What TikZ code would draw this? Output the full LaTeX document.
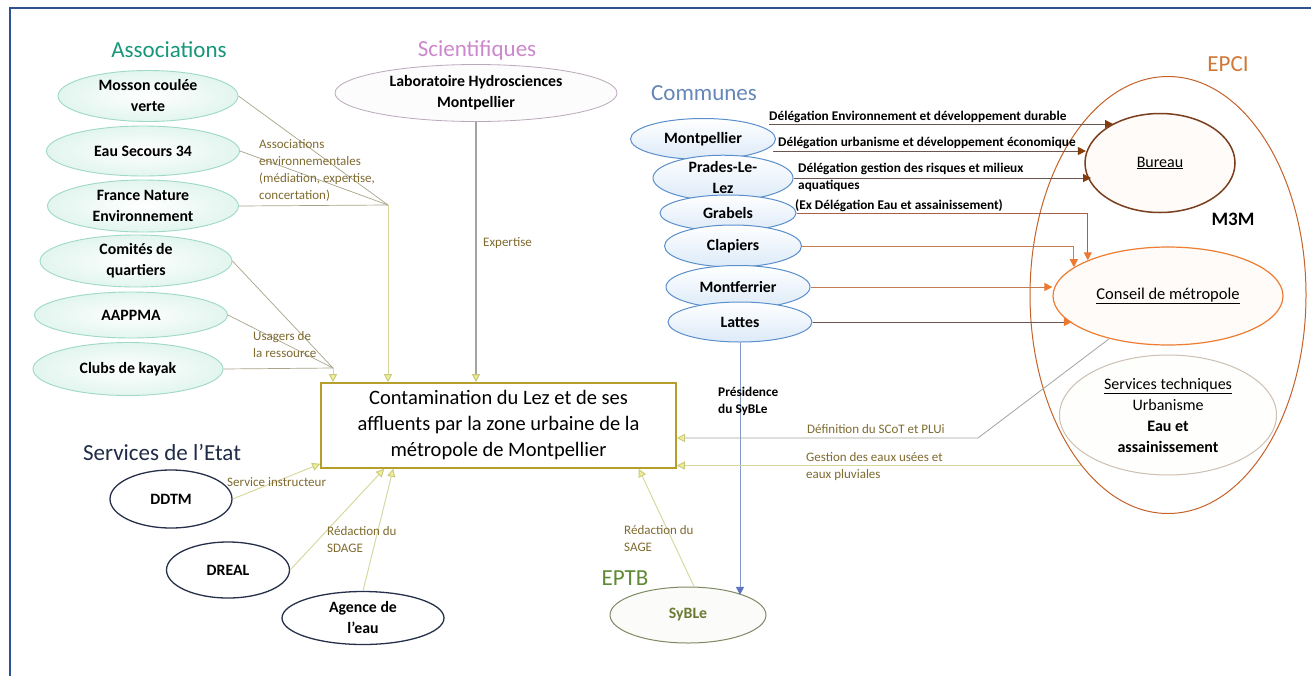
\documentclass[tikz,border=0pt]{standalone}
\usepackage{fontspec}
\setmainfont{Carlito}
\usetikzlibrary{shapes.geometric,arrows.meta,calc}
\definecolor{frameB}{HTML}{2F5291}
\definecolor{assocT}{HTML}{17967A}
\definecolor{assocB}{HTML}{9ED9C6}
\definecolor{assocF}{HTML}{E2F5EE}
\definecolor{sciT}{HTML}{CC88CC}
\definecolor{laboB}{HTML}{B9A9B9}
\definecolor{comT}{HTML}{6586B8}
\definecolor{comB}{HTML}{5B8FCC}
\definecolor{comF}{HTML}{DCEAF8}
\definecolor{etatT}{HTML}{1F2B47}
\definecolor{etatB}{HTML}{27304A}
\definecolor{eptbT}{HTML}{5E8A35}
\definecolor{sybB}{HTML}{7D8A63}
\definecolor{sybT}{HTML}{6C7A33}
\definecolor{epciT}{HTML}{D0783A}
\definecolor{epciB}{HTML}{C5622A}
\definecolor{burB}{HTML}{7A3E1E}
\definecolor{consB}{HTML}{ED7D31}
\definecolor{servB}{HTML}{CDBFB2}
\definecolor{boxB}{HTML}{B59E2A}
\definecolor{labC}{HTML}{7F6B30}
\definecolor{lineA}{HTML}{A9A489}
\definecolor{lineY}{HTML}{D6D69A}
\definecolor{tipY}{HTML}{EEEE9A}
\definecolor{tipYd}{HTML}{C9C979}
\definecolor{lineG}{HTML}{A3A3A0}
\definecolor{lineBl}{HTML}{8599C6}
\definecolor{tipBl}{HTML}{5C74C0}
\definecolor{lineBr}{HTML}{6B5550}
\definecolor{lineRb}{HTML}{A8604A}
\definecolor{lineOr}{HTML}{C47C55}
\definecolor{tipBr}{HTML}{843C0C}
\definecolor{tipOr}{HTML}{EB7A30}
\newcommand\fsnode{\fontsize{15.8}{21}\selectfont}
\newcommand\fslab{\fontsize{13}{17}\selectfont}
\newcommand\fshead{\fontsize{23}{26}\selectfont}
\begin{document}
\begin{tikzpicture}[x=1pt,y=-1pt,
  ell/.style={ellipse, inner sep=0pt, align=center, font=\fsnode\bfseries},
  assoc/.style={ell, draw=assocB, line width=0.9pt, inner color=white, outer color=assocF},
  labo/.style={ell, draw=laboB, line width=0.8pt, fill=white!96!laboB},
  commune/.style={ell, draw=comB, line width=1pt, top color=white, bottom color=comF},
  etat/.style={ell, draw=etatB, line width=1.3pt, fill=white},
  sybl/.style={ell, draw=sybB, line width=1pt, fill=white!97!sybB, text=sybT},
  head/.style={font=\fshead, inner sep=0pt},
  lab/.style={font=\fslab, text=labC, anchor=west, align=left, inner sep=0pt},
  clab/.style={font=\fontsize{13.3}{17}\selectfont\bfseries, text=black, anchor=west, align=left, inner sep=0pt},
  yarrow/.style={-{Triangle[length=8pt,width=8pt,color=tipYd,fill=tipY]}},
  assocline/.style={draw=lineA, line width=0.7pt},
  yline/.style={draw=lineY, line width=0.9pt},
  gline/.style={draw=lineG, line width=1.1pt},
  brarrow/.style={-{Triangle[length=8pt,width=8pt,color=tipBr]}},
  orarrow/.style={-{Triangle[length=8pt,width=8pt,color=tipOr]}}
]
\useasboundingbox (0,0) rectangle (1311,675);
\fill[white] (0,0) rectangle (1311,675);
\draw[frameB, line width=2pt] (10,8) rectangle (1330,690);

% headings
\node[head, text=assocT] (hAssoc) at (169,50) {Associations};
\node[head, text=sciT] (hSci) at (477,50) {Scientifiques};
\node[head, text=comT] (hCom) at (704,93) {Communes};
\node[head, text=etatT] (hEtat) at (162,452) {Services de l’Etat};
\node[head, text=eptbT] (hEptb) at (625,578) {EPTB};
\node[head, text=epciT] (hEpci) at (1228,64) {EPCI};

% EPCI
\node[ellipse, draw=epciB, line width=1pt, minimum width=276pt, minimum height=437pt, inner sep=0pt] (epci) at (1168,295) {};
\node[ellipse, draw=burB, line width=1.5pt, fill=white!97!consB, minimum width=150pt, minimum height=99pt, inner sep=0pt, font=\fontsize{16}{18}\selectfont] (bureau) at (1160,163) {\underline{Bureau}};
\node[font=\fontsize{19}{22}\selectfont\bfseries, inner sep=0pt] (m3m) at (1233,219) {M3M};
\node[ellipse, draw=consB, line width=1.2pt, fill=white!97!consB, minimum width=230pt, minimum height=98pt, inner sep=0pt, font=\fontsize{16.5}{18}\selectfont] (conseil) at (1168,296) {\underline{Conseil de métropole}};
\node[ellipse, draw=servB, line width=1pt, fill=white!98!servB, minimum width=217pt, minimum height=120pt, inner sep=0pt, align=center, font=\fontsize{16}{21}\selectfont] (serv) at (1168,415) {\underline{Services techniques}\\Urbanisme\\\textbf{Eau et}\\\textbf{assainissement}};

% associations
\node[assoc, minimum width=180pt, minimum height=51pt] (mosson) at (148,96) {Mosson coulée\\verte};
\node[assoc, minimum width=193pt, minimum height=50pt] (eau) at (143,151) {Eau Secours 34};
\node[assoc, minimum width=191pt, minimum height=52pt] (fne) at (143,206) {France Nature\\Environnement};
\node[assoc, minimum width=192pt, minimum height=52pt] (comites) at (136,261) {Comités de\\quartiers};
\node[assoc, minimum width=193pt, minimum height=46pt] (aappma) at (131,315) {AAPPMA};
\node[assoc, minimum width=190pt, minimum height=53pt] (kayak) at (128,369) {Clubs de kayak};

% scientifiques
\node[labo, minimum width=282pt, minimum height=57pt] (labo) at (476,93) {Laboratoire Hydrosciences\\Montpellier};

% etat
\node[etat, minimum width=122pt, minimum height=58pt] (ddtm) at (171,499) {DDTM};
\node[etat, minimum width=123pt, minimum height=56pt] (dreal) at (228,570) {DREAL};
\node[etat, minimum width=162pt, minimum height=53pt] (agence) at (363,618) {Agence de\\l’eau};

% EPTB
\node[sybl, minimum width=156pt, minimum height=56pt] (syble) at (688,615) {SyBLe};

% communes
\node[commune, minimum width=145pt, minimum height=41pt] (montp) at (703,139) {Montpellier};
\node[commune, minimum width=140pt, minimum height=44pt] (prades) at (723,178) {Prades-Le-\\Lez};
\node[commune, minimum width=136pt, minimum height=36pt] (grabels) at (728,213) {Grabels};
\node[commune, minimum width=137pt, minimum height=42pt] (clapiers) at (733,246) {Clapiers};
\node[commune, minimum width=144pt, minimum height=43pt] (montf) at (738,287) {Montferrier};
\node[commune, minimum width=144pt, minimum height=40pt] (lattes) at (740,322) {Lattes};

% central box
\node[draw=boxB, line width=1.6pt, fill=white, minimum width=355pt, minimum height=85pt, inner sep=0pt, align=center, font=\fontsize{20.5}{26}\selectfont] (box) at (498.5,425.5) {Contamination du Lez et de ses\\affluents par la zone urbaine de la\\métropole de Montpellier};

% associations connectors
\coordinate (J1) at (388,205);
\coordinate (J2) at (333,368);
\draw[assocline] (mosson.east) -- (J1);
\draw[assocline] (eau.east) -- (J1);
\draw[assocline] (fne.east) -- (J1);
\draw[yline, yarrow] (J1) -- (J1 |- box.north);
\draw[assocline] (comites.east) -- (J2);
\draw[assocline] (aappma.east) -- (J2);
\draw[assocline] (kayak.east) -- (J2);
\draw[yline, yarrow] (J2) -- (J2 |- box.north);
\node[lab] (lAssoc) at (259,170) {Associations\\environnementales\\(médiation, expertise,\\concertation)};
\node[lab] (lUsag) at (253,345) {Usagers de\\la ressource};

% scientifiques connector
\draw[gline, yarrow] (labo.south) -- (labo.south |- box.north);
\node[lab] (lExp) at (483,243) {Expertise};

% etat connectors
\draw[yline, yarrow] (ddtm.east) -- ($(box.south west)+(0,-5)$);
\draw[yline, yarrow] (dreal.east) -- ($(box.south west)+(64,0)$);
\draw[yline, yarrow] (agence.north) -- ($(box.south west)+(73,0)$);
\node[lab] (lServ) at (227,482) {Service instructeur};
\node[lab] (lSdage) at (327,540) {Rédaction du\\SDAGE};

% EPTB connector
\draw[yline, yarrow] ($(syble.north)+(6,0)$) -- ($(box.south east)+(-38,0)$);
\node[lab] (lSage) at (624,539) {Rédaction du\\SAGE};
\draw[draw=lineBl, line width=1pt, -{Triangle[length=8pt,width=8pt,color=tipBl]}] (lattes.south) -- (lattes.south |- syble.north east);
\node[clab] (lPres) at (718,401) {Présidence\\du SyBLe};

% communes connectors
\coordinate (c1) at ($(montp.east)+(-7,-15)$);
\coordinate (c2) at ($(montp.east)+(-3,12)$);
\draw[draw=lineBr, line width=1pt, brarrow] (c1) -- (c1 -| bureau.140);
\draw[draw=lineBr, line width=1pt, brarrow] (c2) -- (c2 -| bureau.172);
\draw[draw=lineBr, line width=1pt, brarrow] (prades.east) -- (prades.east -| bureau.197);
\draw[draw=lineRb, line width=1pt, orarrow] (grabels.east) -| (conseil.156);
\draw[draw=lineOr, line width=1pt, orarrow] (clapiers.east) -| (conseil.163);
\draw[draw=lineOr, line width=1pt, orarrow] (montf.east) -- (montf.east -| conseil.west);
\draw[draw=lineBr, line width=1pt, orarrow] (lattes.east) -- (lattes.east -| conseil.196);
\node[clab] (l1) at (769,117) {Délégation Environnement et développement durable};
\node[clab] (l2) at (778,143) {Délégation urbanisme et développement économique};
\node[clab] (l3) at (798,177.5) {Délégation gestion des risques et milieux\\aquatiques};
\node[clab] (l4) at (795,206) {(Ex Délégation Eau et assainissement)};

% EPCI connectors
\coordinate (K) at (978,438);
\draw[gline, line width=0.8pt, yarrow] (conseil.216) -- (K) -- (K -| box.east);
\draw[yline, yarrow] (epci.243) -- (epci.243 -| box.east);
\node[lab] (lScot) at (807,429) {Définition du SCoT et PLUi};
\node[lab] (lGest) at (806,467) {Gestion des eaux usées et\\eaux pluviales};
\end{tikzpicture}
\end{document}
